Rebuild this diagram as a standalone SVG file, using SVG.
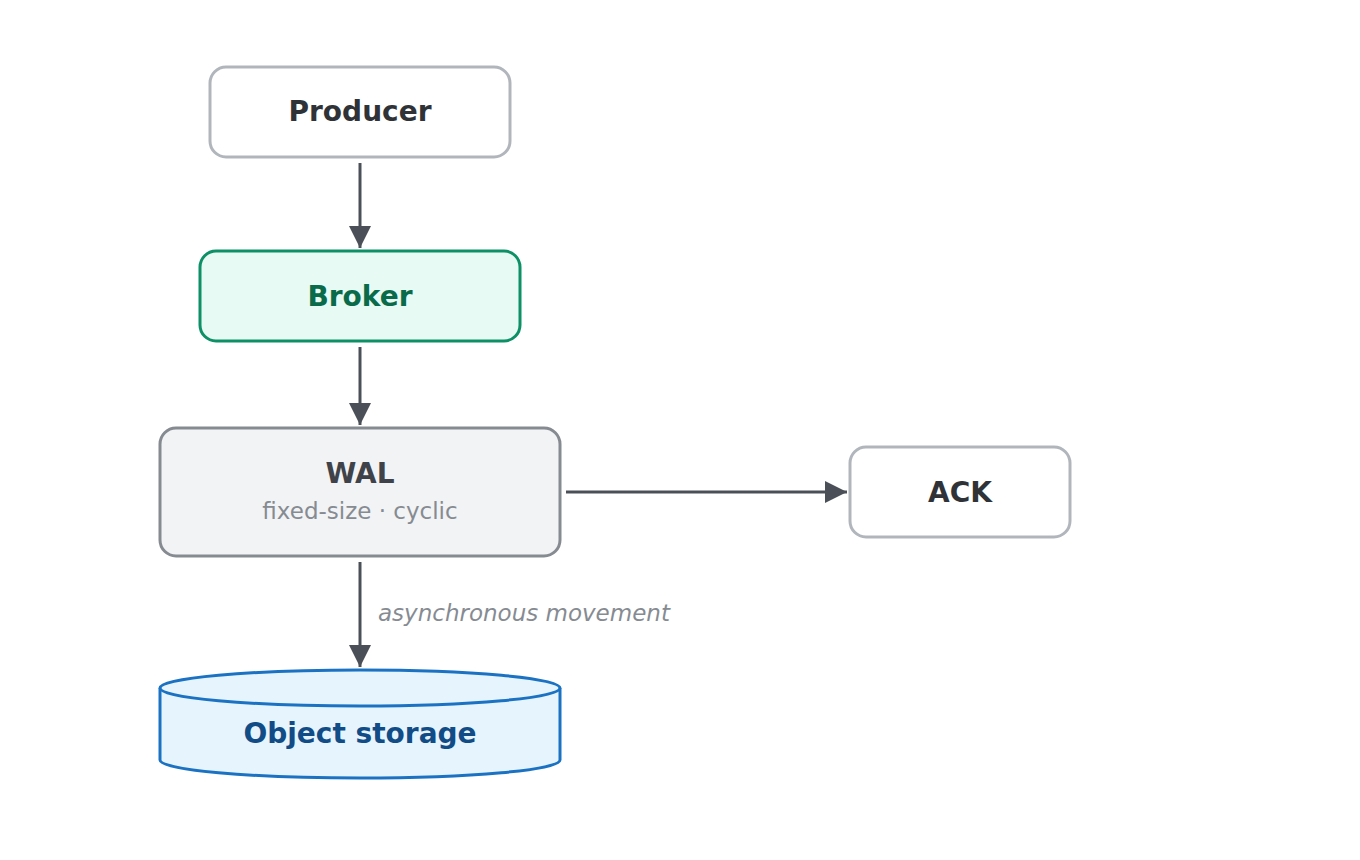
<svg xmlns="http://www.w3.org/2000/svg" width="1360" height="860" viewBox="0 0 1360 860">
<style>
.t{font-family:"DejaVu Sans",sans-serif;font-weight:bold;font-size:28px;text-anchor:middle}
.e{stroke:#4b5058;stroke-width:3;fill:none}
</style>
<defs><marker id="a" markerWidth="8" markerHeight="8" refX="7" refY="4" orient="auto" markerUnits="userSpaceOnUse" viewBox="0 0 8 8"><path d="M0,0L8,4L0,8z" fill="#4b5058"/></marker>
<marker id="m" viewBox="0 0 22 22" refX="22" refY="11" markerWidth="22" markerHeight="22" markerUnits="userSpaceOnUse" orient="auto"><path d="M0,0L22,11L0,22z" fill="#4b5058"/></marker></defs>
<rect width="1360" height="860" fill="#fff"/>
<g id="producer"><rect x="210" y="67" width="300" height="90" rx="16" fill="#fff" stroke="#b1b6bd" stroke-width="3"/><text class="t" x="360" y="121" fill="#2f3338">Producer</text></g>
<g id="broker"><rect x="200" y="251" width="320" height="90" rx="16" fill="#e7faf3" stroke="#0e9066" stroke-width="3"/><text class="t" x="360" y="306" fill="#0a6b4b">Broker</text></g>
<g id="wal"><rect x="160" y="428" width="400" height="128" rx="16" fill="#f2f3f5" stroke="#868b92" stroke-width="3"/><text class="t" x="360" y="483" fill="#3f4349">WAL</text><text x="360" y="519" font-family="DejaVu Sans,sans-serif" font-size="23" fill="#868b92" text-anchor="middle">fixed-size · cyclic</text></g>
<g id="ack"><rect x="850" y="447" width="220" height="90" rx="16" fill="#fff" stroke="#b1b6bd" stroke-width="3"/><text class="t" x="960" y="502" fill="#2f3338">ACK</text></g>
<g id="storage"><path d="M160,688V760A200,18 0 0 0 560,760V688" fill="#e6f4fd" stroke="#1b72c3" stroke-width="3"/><ellipse cx="360" cy="688" rx="200" ry="18" fill="#e6f4fd" stroke="#1b72c3" stroke-width="3"/><text class="t" x="360" y="743" fill="#114c86">Object storage</text></g>
<g id="connectors">
<line class="e" x1="360" y1="163" x2="360" y2="248" marker-end="url(#m)"/>
<line class="e" x1="360" y1="347" x2="360" y2="425" marker-end="url(#m)"/>
<line class="e" x1="566" y1="492" x2="847" y2="492" marker-end="url(#m)"/>
<line class="e" x1="360" y1="562" x2="360" y2="667" marker-end="url(#m)"/>
<text x="378" y="621" font-family="DejaVu Sans,sans-serif" font-style="italic" font-size="23" fill="#868b92">asynchronous movement</text>
</g>
</svg>
